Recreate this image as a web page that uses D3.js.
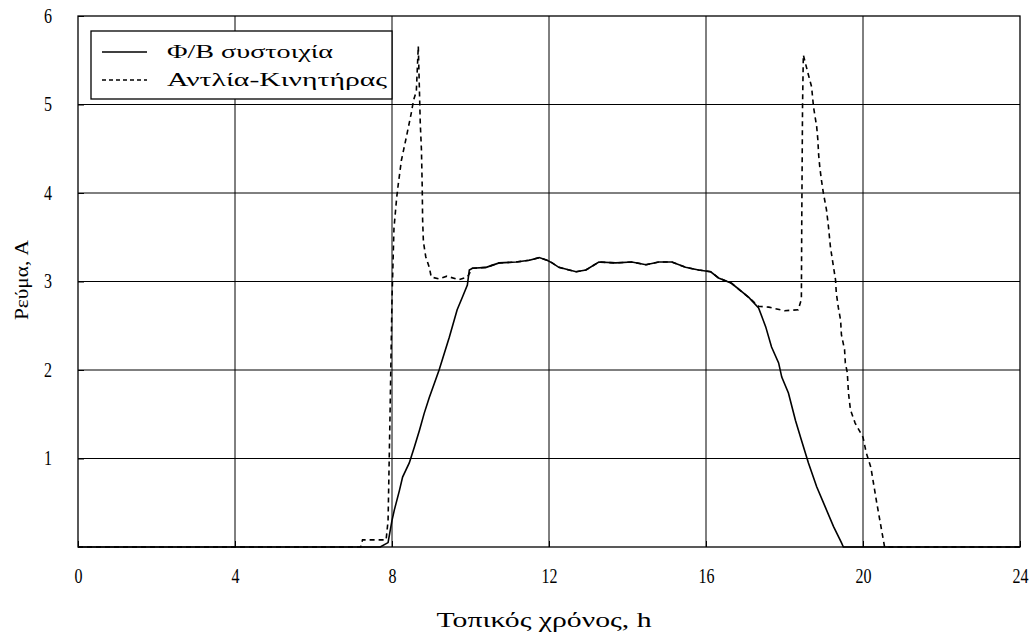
<!DOCTYPE html>
<html>
<head>
<meta charset="utf-8">
<script src="https://cdn.jsdelivr.net/npm/d3@7"></script>
<style>
  body { margin: 0; background: #fff; }
  text { font-family: "Liberation Serif", "DejaVu Serif", serif; fill: #000; }
</style>
</head>
<body>
<div id="chart"></div>
<script>
// PV array current (solid)
const pvHours = [0, 7.7, 7.9, 8.0, 8.06, 8.19, 8.27, 8.44, 8.57, 8.7, 8.82, 8.95, 9.08, 9.2, 9.46, 9.66, 9.79, 9.92,
  9.97, 10.05, 10.4, 10.73, 11.16, 11.5, 11.75, 11.95, 12.08, 12.25, 12.69, 12.94, 13.27, 13.7, 14.11, 14.47, 14.8,
  15.13, 15.48, 15.81, 16.12, 16.32, 16.65, 17.09, 17.34, 17.52, 17.67, 17.85, 17.93, 18.1, 18.28, 18.43, 18.61,
  18.82, 19.04, 19.25, 19.45, 19.5, 24];
const pvCurrent = [0, 0, 0.05, 0.3, 0.42, 0.64, 0.79, 0.95, 1.13, 1.32, 1.51, 1.69, 1.85, 2.0, 2.37, 2.68, 2.82, 2.96,
  3.13, 3.15, 3.16, 3.21, 3.22, 3.24, 3.27, 3.24, 3.21, 3.16, 3.11, 3.13, 3.22, 3.21, 3.22, 3.19, 3.22,
  3.22, 3.16, 3.13, 3.11, 3.04, 2.98, 2.82, 2.7, 2.49, 2.26, 2.08, 1.92, 1.74, 1.43, 1.21, 0.95,
  0.68, 0.45, 0.23, 0.05, 0, 0];

// Pump-motor current (dashed)
const pumpHours = [0, 7.2, 7.25, 7.85, 7.9, 7.95, 8.0, 8.05, 8.12, 8.16, 8.24, 8.36, 8.49, 8.55, 8.62, 8.67, 8.72,
  8.75, 8.77, 8.78, 8.8, 8.86, 8.95, 9.0, 9.2, 9.4, 9.7, 9.92, 10.05, 10.4, 10.73, 11.16, 11.5, 11.75, 11.95, 12.08,
  12.25, 12.69, 12.94, 13.27, 13.7, 14.11, 14.47, 14.8, 15.13, 15.48, 15.81, 16.12, 16.32, 16.65, 17.09, 17.34,
  17.6, 18.0, 18.35, 18.43, 18.44, 18.46, 18.48, 18.6, 18.69, 18.74, 18.82, 18.85, 18.87, 18.9, 18.94, 18.99,
  19.07, 19.12, 19.17, 19.25, 19.3, 19.32, 19.37, 19.43, 19.45, 19.53, 19.55, 19.6, 19.63, 19.68, 19.8, 20.0,
  20.08, 20.2, 20.35, 20.55, 24];
const pumpCurrent = [0, 0, 0.08, 0.08, 0.3, 1.5, 2.8, 3.6, 3.95, 4.1, 4.37, 4.62, 4.9, 5.05, 5.15, 5.66, 4.79,
  4.49, 4.07, 3.7, 3.45, 3.28, 3.16, 3.05, 3.03, 3.06, 3.02, 3.05, 3.15, 3.16, 3.21, 3.22, 3.24, 3.27, 3.24, 3.21,
  3.16, 3.11, 3.13, 3.22, 3.21, 3.22, 3.19, 3.22, 3.22, 3.16, 3.13, 3.11, 3.04, 2.98, 2.82, 2.72,
  2.71, 2.67, 2.68, 2.8, 3.7, 5.0, 5.56, 5.35, 5.2, 4.97, 4.75, 4.6, 4.43, 4.29, 4.15, 4.0,
  3.81, 3.62, 3.39, 3.16, 3.02, 2.87, 2.71, 2.56, 2.4, 2.23, 2.08, 1.97, 1.74, 1.55, 1.4, 1.24,
  1.07, 0.9, 0.5, 0, 0];

const xTicks = [0, 4, 8, 12, 16, 20, 24];
const yTicks = [1, 2, 3, 4, 5, 6];
const legendLabels = ['Φ/Β συστοιχία', 'Αντλία-Κινητήρας'];
const xTitle = 'Τοπικός χρόνος, h';
const yTitle = 'Ρεύμα, A';

const margin = {top: 16, right: 12, bottom: 90, left: 78};
const containerWidth = 1032, containerHeight = 637;
const width = containerWidth - margin.left - margin.right;
const height = containerHeight - margin.top - margin.bottom;

const svg = d3.select('#chart').append('svg')
    .attr('width', containerWidth)
    .attr('height', containerHeight);

const chart = svg.append('g')
    .attr('transform', `translate(${margin.left},${margin.top})`);

const x = d3.scaleLinear().domain([0, 24]).range([0, width]);
const y = d3.scaleLinear().domain([0, 6]).range([height, 0]);

// grid lines (MATLAB style, they look solid on the scan)
chart.append('g')
    .selectAll('line')
    .data(xTicks.slice(1, -1))
  .join('line')
    .attr('x1', d => x(d)).attr('x2', d => x(d))
    .attr('y1', 0).attr('y2', height)
    .attr('stroke', '#000').attr('stroke-width', 1);

chart.append('g')
    .selectAll('line')
    .data(yTicks.slice(0, -1))
  .join('line')
    .attr('x1', 0).attr('x2', width)
    .attr('y1', d => y(d)).attr('y2', d => y(d))
    .attr('stroke', '#000').attr('stroke-width', 1);

// axes, ticks pointing inward
const xAxis = chart.append('g')
    .attr('transform', `translate(0,${height})`)
    .call(d3.axisBottom(x).tickValues(xTicks).tickSize(-6).tickPadding(22).tickFormat(d3.format('d')));
const yAxis = chart.append('g')
    .call(d3.axisLeft(y).tickValues(yTicks).tickSize(-6).tickPadding(26).tickFormat(d3.format('d')));

[xAxis, yAxis].forEach(a => {
  a.select('.domain').remove();
  a.selectAll('line').attr('stroke', '#000');
  a.selectAll('text')
      .attr('font-size', 20)
      .attr('font-family', '"Liberation Serif", serif')
      .attr('textLength', d => String(d).length * 8)
      .attr('lengthAdjust', 'spacingAndGlyphs');
});

// frame
chart.append('rect')
    .attr('width', width).attr('height', height)
    .attr('fill', 'none').attr('stroke', '#000').attr('stroke-width', 1.3);

const line = d3.line()
    .x(d => x(d[0]))
    .y(d => y(d[1]));

chart.append('path')
    .datum(d3.zip(pvHours, pvCurrent))
    .attr('d', line)
    .attr('fill', 'none').attr('stroke', '#000').attr('stroke-width', 1.6);

chart.append('path')
    .datum(d3.zip(pumpHours, pumpCurrent))
    .attr('d', line)
    .attr('fill', 'none').attr('stroke', '#000').attr('stroke-width', 1.6)
    .attr('stroke-dasharray', '5,4');

// legend
const legend = chart.append('g')
    .attr('transform', `translate(${91 - margin.left},${31 - margin.top})`);

legend.append('rect')
    .attr('width', 301).attr('height', 68)
    .attr('fill', '#fff').attr('stroke', '#000').attr('stroke-width', 1.3);

const legendItems = legend.selectAll('.legend-item')
    .data(legendLabels)
  .join('g')
    .attr('class', 'legend-item')
    .attr('transform', (d, i) => `translate(0,${21 + i * 28})`);

legendItems.append('line')
    .attr('x1', 11).attr('x2', 56)
    .attr('stroke', '#000').attr('stroke-width', 1.6)
    .attr('stroke-dasharray', (d, i) => i === 0 ? null : '4,3');

legendItems.append('text')
    .attr('x', 76).attr('dy', '0.33em')
    .attr('font-size', 19)
    .attr('textLength', (d, i) => i === 0 ? 166 : 220)
    .attr('lengthAdjust', 'spacingAndGlyphs')
    .text(d => d);

// axis titles
svg.append('text')
    .attr('x', 544).attr('y', 627)
    .attr('text-anchor', 'middle')
    .attr('font-size', 20)
    .attr('textLength', 215)
    .attr('lengthAdjust', 'spacingAndGlyphs')
    .text(xTitle);

svg.append('text')
    .attr('transform', 'translate(28,280) rotate(-90)')
    .attr('text-anchor', 'middle')
    .attr('font-size', 19)
    .attr('textLength', 80)
    .attr('lengthAdjust', 'spacingAndGlyphs')
    .text(yTitle);
</script>
</body>
</html>
